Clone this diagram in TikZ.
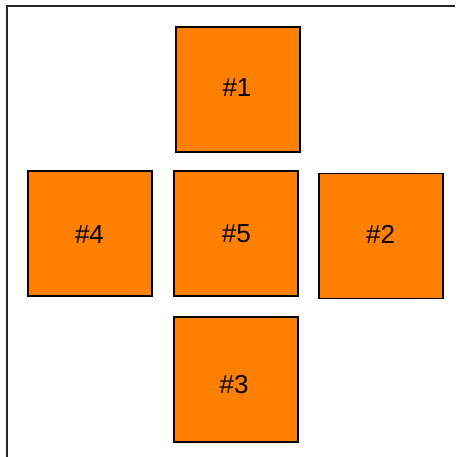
\documentclass[tikz,border=0pt]{standalone}
\usepackage{fontspec}
\setmainfont{Liberation Sans}
\definecolor{boxorange}{HTML}{FF8000}
\begin{document}
\begin{tikzpicture}[x=1pt,y=-1pt,
  sq/.style={draw=black,fill=boxorange,line width=1.6pt,minimum width=124pt,minimum height=125pt,inner sep=0pt,anchor=north west},
  tx/.style={font=\fontsize{26}{30}\selectfont,inner sep=0pt}]
\useasboundingbox (0,0) rectangle (455,457);
\fill[white] (0,0) rectangle (455,457);
\draw[line width=2pt,black!85] (6.5,457) -- (6.5,6.5) -- (455,6.5);
\node[sq,label={[tx,xshift=-0.8pt,yshift=2pt]center:\#1}] (n1) at (175,26) {};
\node[sq,label={[tx,xshift=-0.3pt,yshift=-1.3pt]center:\#4}] (n4) at (27,170) {};
\node[sq,label={[tx,xshift=0.5pt,yshift=-0.8pt]center:\#5}] (n5) at (173,170) {};
\node[sq,label={[tx,xshift=-0.2pt,yshift=1.3pt]center:\#2}] (n2) at (318,172.5) {};
\node[sq,label={[tx,xshift=-1.7pt,yshift=-5pt]center:\#3}] (n3) at (173,316) {};
\end{tikzpicture}
\end{document}
